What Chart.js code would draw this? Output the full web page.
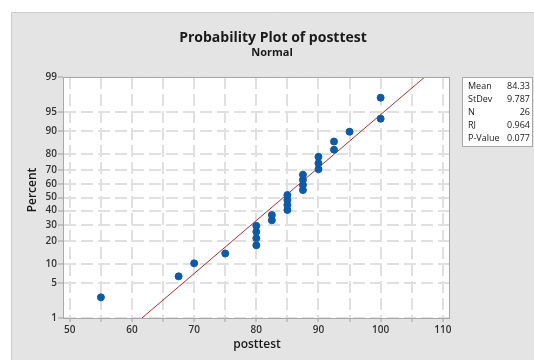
<!DOCTYPE html>
<html>
<head>
<meta charset="utf-8">
<script src="https://cdn.jsdelivr.net/npm/chart.js@4/dist/chart.umd.min.js"></script>
<style>
  body { margin: 0; background: #fff; }
  canvas { display: block; }
</style>
</head>
<body>
<canvas id="probPlot" width="534" height="360"></canvas>
<script>
// posttest scores (sorted) and the plotted percent for each one
const posttest = [55, 67.5, 70, 75, 80, 80, 80, 80, 82.5, 82.5, 85, 85, 85, 85,
                  87.5, 87.5, 87.5, 87.5, 90, 90, 90, 92.5, 92.5, 95, 100, 100];
const percent = [2.7, 6.4, 10.2, 14.0, 17.8, 21.6, 25.4, 29.2, 33.0, 36.7, 40.5, 44.3, 48.1,
                 51.9, 55.7, 59.5, 63.3, 67.0, 70.8, 74.6, 78.4, 82.2, 86.0, 89.8, 93.6, 97.3];
// fitted normal line end points
const fitX = [61.6, 107.1];
const fitPct = [1, 99];
const xTicks = [50, 55, 60, 65, 70, 75, 80, 85, 90, 95, 100, 105, 110];
const yTicks = [1, 5, 10, 20, 30, 40, 50, 60, 70, 80, 90, 95, 99];
const statLabels = ['Mean', 'StDev', 'N', 'RJ', 'P-Value'];
const statValues = ['84.33', '9.787', '26', '0.964', '0.077'];

const FONT = "'Open Sans', 'Noto Sans', sans-serif";

// inverse normal cdf (Acklam)
function probit(p) {
    const a = [-3.969683028665376e+01, 2.209460984245205e+02, -2.759285104469687e+02, 1.383577518672690e+02, -3.066479806614716e+01, 2.506628277459239e+00];
    const b = [-5.447609879822406e+01, 1.615858368580409e+02, -1.556989798598866e+02, 6.680131188771972e+01, -1.328068155288572e+01];
    const c = [-7.784894002430293e-03, -3.223964580411365e-01, -2.400758277161838e+00, -2.549732539343734e+00, 4.374664141464968e+00, 2.938163982698783e+00];
    const d = [7.784695709041462e-03, 3.224671290700398e-01, 2.445134137624850e+00, 3.754408661907416e+00];
    const pl = 0.02425;
    if (p < pl) {
        const q = Math.sqrt(-2 * Math.log(p));
        return (((((c[0]*q+c[1])*q+c[2])*q+c[3])*q+c[4])*q+c[5]) / ((((d[0]*q+d[1])*q+d[2])*q+d[3])*q+1);
    }
    if (p > 1 - pl) {
        const q = Math.sqrt(-2 * Math.log(1 - p));
        return -(((((c[0]*q+c[1])*q+c[2])*q+c[3])*q+c[4])*q+c[5]) / ((((d[0]*q+d[1])*q+d[2])*q+d[3])*q+1);
    }
    const q = p - 0.5, r = q * q;
    return (((((a[0]*r+a[1])*r+a[2])*r+a[3])*r+a[4])*r+a[5])*q / (((((b[0]*r+b[1])*r+b[2])*r+b[3])*r+b[4])*r+1);
}

function normCdf(z) {
    const t = 1 / (1 + 0.2316419 * Math.abs(z));
    const y = t * (0.319381530 + t * (-0.356563782 + t * (1.781477937 + t * (-1.821255978 + t * 1.330274429))));
    const p = 1 - Math.exp(-z * z / 2) / Math.sqrt(2 * Math.PI) * y;
    return z >= 0 ? p : 1 - p;
}

// normal probability axis
class ProbitScale extends Chart.LinearScale {
    buildTicks() {
        return yTicks.filter(v => v >= this.min && v <= this.max).map(v => ({ value: v }));
    }
    getPixelForValue(value) {
        const z0 = probit(this.min / 100), z1 = probit(this.max / 100);
        return this.getPixelForDecimal((probit(value / 100) - z0) / (z1 - z0));
    }
    getValueForPixel(pixel) {
        const z0 = probit(this.min / 100), z1 = probit(this.max / 100);
        return 100 * normCdf(z0 + this.getDecimalForPixel(pixel) * (z1 - z0));
    }
}
ProbitScale.id = 'probit';
ProbitScale.defaults = {};
Chart.register(ProbitScale);

const decor = {
    id: 'decor',
    beforeDraw(chart) {
        const ctx = chart.ctx;
        const a = chart.chartArea;
        ctx.save();
        ctx.fillStyle = '#ffffff';
        ctx.fillRect(0, 0, chart.width, chart.height);
        ctx.fillStyle = '#e4e4e4';
        ctx.fillRect(11, 12, chart.width - 11, chart.height - 12);
        ctx.strokeStyle = '#cccccc';
        ctx.lineWidth = 1;
        ctx.beginPath();
        ctx.moveTo(11.5, chart.height);
        ctx.lineTo(11.5, 12.5);
        ctx.lineTo(chart.width, 12.5);
        ctx.stroke();
        ctx.fillStyle = '#ffffff';
        ctx.fillRect(a.left, a.top, a.right - a.left, a.bottom - a.top);
        ctx.restore();
    },
    afterDraw(chart) {
        const ctx = chart.ctx;
        const a = chart.chartArea;
        ctx.save();
        ctx.strokeStyle = '#a8a8a8';
        ctx.lineWidth = 1;
        ctx.strokeRect(a.left + 0.5, a.top + 0.5, a.right - a.left, a.bottom - a.top);

        // titles
        ctx.fillStyle = '#1a1a1a';
        ctx.textAlign = 'center';
        ctx.textBaseline = 'middle';
        ctx.font = 'bold 14px ' + FONT;
        ctx.fillText('Probability Plot of posttest', 273, 38);
        ctx.font = 'bold 11px ' + FONT;
        ctx.fillText('Normal', 272, 53);

        // axis titles
        ctx.font = '600 12px ' + FONT;
        ctx.fillText('posttest', 257, 345);
        ctx.save();
        ctx.translate(33, 190);
        ctx.rotate(-Math.PI / 2);
        ctx.fillText('Percent', 0, 0);
        ctx.restore();

        // stats box
        ctx.fillStyle = '#ffffff';
        ctx.fillRect(462, 77, 70, 69);
        ctx.strokeStyle = '#a8a8a8';
        ctx.strokeRect(462.5, 77.5, 70, 69);
        ctx.fillStyle = '#1a1a1a';
        ctx.font = '9px ' + FONT;
        statLabels.forEach((lab, i) => {
            const y = 86 + i * 13;
            ctx.textAlign = 'left';
            ctx.fillText(lab, 468, y);
            ctx.textAlign = 'right';
            ctx.fillText(statValues[i], 530, y);
        });
        ctx.restore();
    }
};

const ctx = document.getElementById('probPlot').getContext('2d');
const probChart = new Chart(ctx, {
    type: 'scatter',
    data: {
        datasets: [{
            type: 'line',
            data: fitX.map((x, i) => ({ x: x, y: fitPct[i] })),
            borderColor: '#b03030',
            borderWidth: 1,
            pointRadius: 0,
            fill: false,
            order: 2
        }, {
            data: posttest.map((x, i) => ({ x: x, y: percent[i] })),
            backgroundColor: '#0d5aa7',
            borderColor: '#0d5aa7',
            pointRadius: 3.5,
            order: 1
        }]
    },
    options: {
        responsive: false,
        animation: false,
        layout: { padding: { top: 77, right: 85, left: 0, bottom: 0 } },
        plugins: {
            legend: { display: false },
            tooltip: { enabled: false }
        },
        scales: {
            x: {
                type: 'linear',
                min: 48.9,
                max: 111,
                afterBuildTicks: s => { s.ticks = xTicks.map(v => ({ value: v })); },
                afterFit: s => { s.height = 42; },
                ticks: {
                    autoSkip: false,
                    maxRotation: 0,
                    padding: 2,
                    color: '#333333',
                    font: { family: FONT, size: 10, weight: '600' },
                    callback: v => (v % 10 === 0 ? v : '')
                },
                grid: {
                    color: '#e0e0e0',
                    lineWidth: 2,
                    tickColor: '#a0a0a0',
                    tickWidth: 1,
                    tickLength: 4,
                    tickBorderDash: []
                },
                border: { color: '#a8a8a8', dash: [12, 5] }
            },
            y: {
                type: 'probit',
                min: 1,
                max: 99,
                afterFit: s => { s.width = 63; },
                ticks: {
                    autoSkip: false,
                    padding: 1,
                    color: '#333333',
                    font: { family: FONT, size: 10, weight: '600' },
                    callback: v => v
                },
                grid: {
                    color: '#e0e0e0',
                    lineWidth: 2,
                    tickColor: '#a0a0a0',
                    tickWidth: 1,
                    tickLength: 5,
                    tickBorderDash: []
                },
                border: { color: '#a8a8a8', dash: [12, 5] }
            }
        }
    },
    plugins: [decor]
});
</script>
</body>
</html>
